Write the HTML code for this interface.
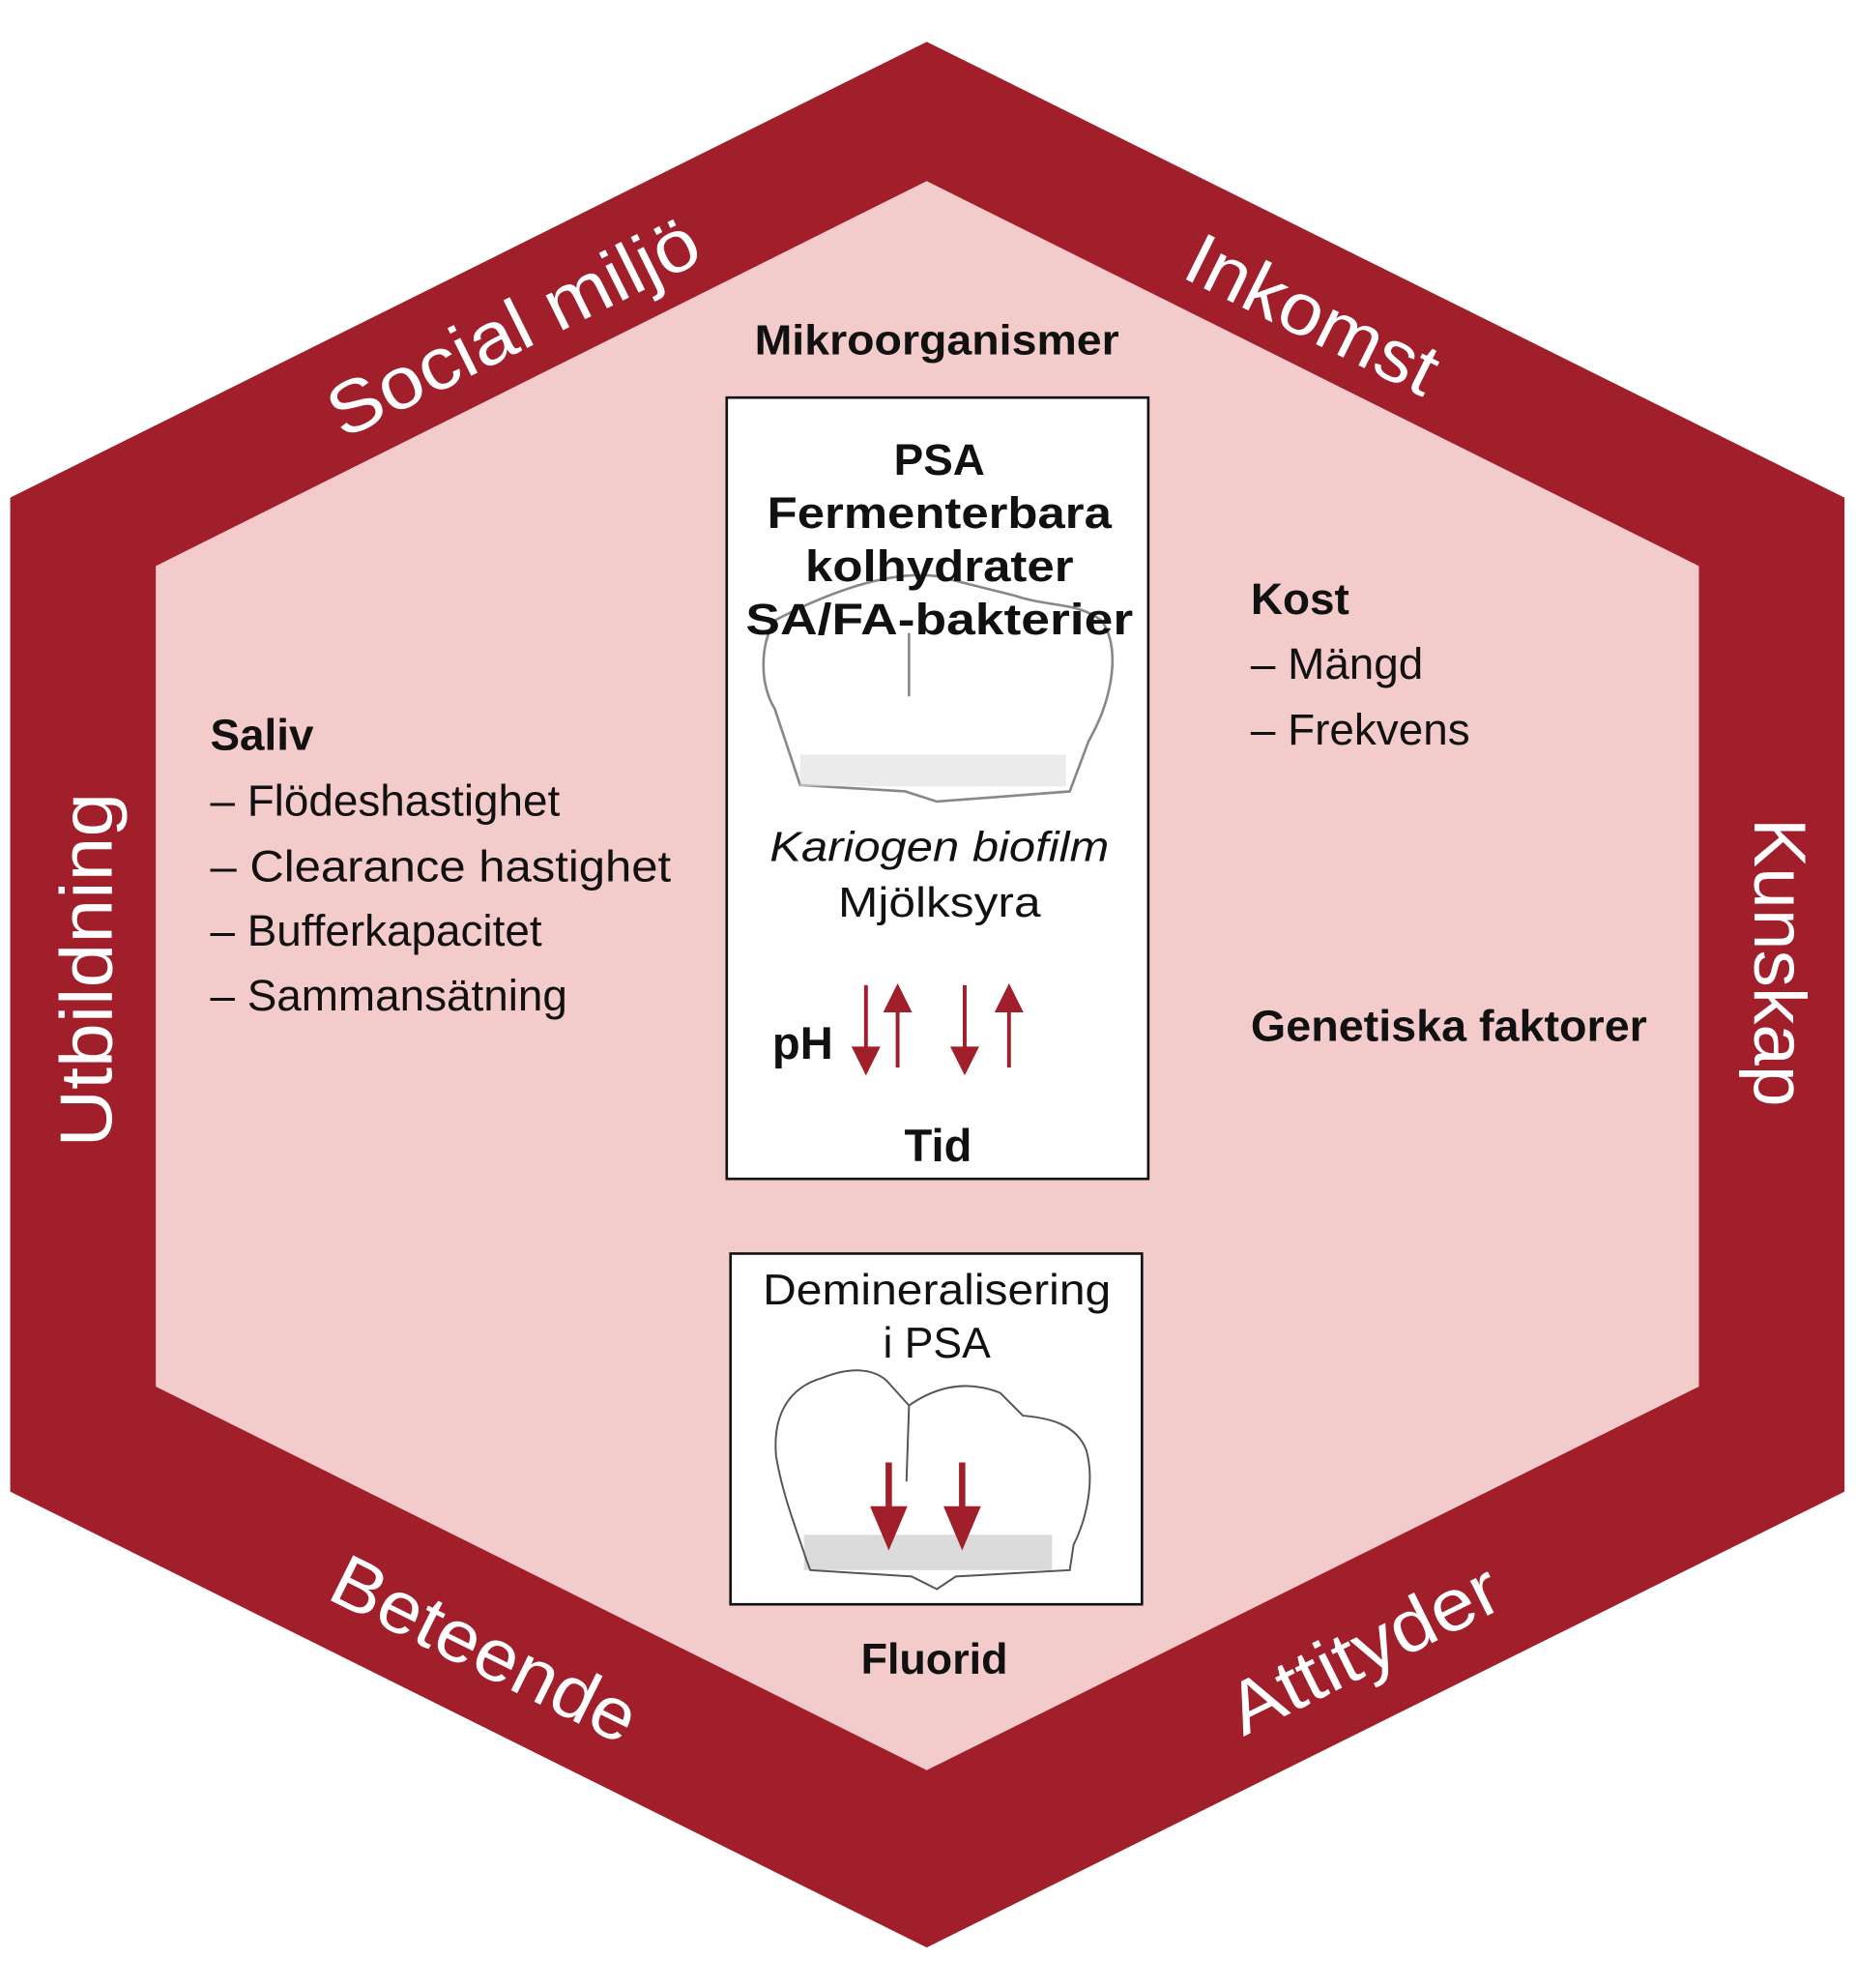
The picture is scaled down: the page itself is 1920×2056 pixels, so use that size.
<!DOCTYPE html>
<html><head><meta charset="utf-8"><style>
html,body{margin:0;padding:0;background:#fff}
svg{display:block}
text{font-family:"Liberation Sans",sans-serif}
</style></head><body>
<svg width="1920" height="2056" viewBox="0 0 1466 1570" xmlns="http://www.w3.org/2000/svg">
<polygon points="732,33 1457,393 1457,1178 732,1538 8,1178 8,393" fill="#a01f2b"/>
<polygon points="732,143 1342,447 1342,1095 732,1398 123,1095 123,447" fill="#f4cbcb"/>

<g fill="#fff" font-size="58" text-anchor="middle">
<text transform="translate(414,276) rotate(-26.4)" textLength="320" lengthAdjust="spacingAndGlyphs">Social miljö</text>
<text transform="translate(1028,266) rotate(26.4)" textLength="215" lengthAdjust="spacingAndGlyphs">Inkomst</text>
<text transform="translate(88,766) rotate(-90)" textLength="280" lengthAdjust="spacingAndGlyphs">Utbildning</text>
<text transform="translate(1386,760) rotate(90)" textLength="228" lengthAdjust="spacingAndGlyphs">Kunskap</text>
<text transform="translate(374,1320) rotate(26.4)" textLength="262" lengthAdjust="spacingAndGlyphs">Beteende</text>
<text transform="translate(1086,1320) rotate(-26.4)" textLength="232" lengthAdjust="spacingAndGlyphs">Attityder</text>
</g>

<text x="740" y="280" font-size="33" font-weight="bold" text-anchor="middle" fill="#111" textLength="288" lengthAdjust="spacingAndGlyphs">Mikroorganismer</text>

<rect x="574" y="314" width="333" height="617" fill="#fff" stroke="#111" stroke-width="2"/>
<g fill="none" stroke="#888" stroke-width="2">
<path d="M612,490 C600,510 600,540 612,560 L632,620 L715,625 L740,633 L845,625 L860,585 C880,550 885,510 870,490 C850,475 830,480 800,470 L740,455 C700,450 650,470 612,490 Z"/>
<path d="M718,500 L718,550"/>
</g>
<rect x="632" y="596" width="210" height="25" fill="#ddd" opacity="0.6"/>
<g fill="#111" text-anchor="middle" font-weight="bold" font-size="35">
<text x="742" y="375">PSA</text>
<text x="742" y="417" textLength="272" lengthAdjust="spacingAndGlyphs">Fermenterbara</text>
<text x="742" y="459" textLength="212" lengthAdjust="spacingAndGlyphs">kolhydrater</text>
<text x="742" y="501" textLength="306" lengthAdjust="spacingAndGlyphs">SA/FA-bakterier</text>
</g>
<text x="742" y="680" font-size="33" font-style="italic" text-anchor="middle" fill="#111" textLength="268" lengthAdjust="spacingAndGlyphs">Kariogen biofilm</text>
<text x="742" y="724" font-size="33" text-anchor="middle" fill="#111" textLength="160" lengthAdjust="spacingAndGlyphs">Mjölksyra</text>
<text x="610" y="836" font-size="36" font-weight="bold" fill="#111">pH</text>
<g stroke="#a01f2b" stroke-width="3" fill="#a01f2b">
<line x1="684" y1="778" x2="684" y2="830"/><polygon points="675,828 693,828 684,846"/>
<line x1="709" y1="796" x2="709" y2="843"/><polygon points="700,798 718,798 709,780"/>
<line x1="762" y1="778" x2="762" y2="830"/><polygon points="753,828 771,828 762,846"/>
<line x1="797" y1="796" x2="797" y2="843"/><polygon points="788,798 806,798 797,780"/>
</g>
<text x="741" y="917" font-size="36" font-weight="bold" text-anchor="middle" fill="#111">Tid</text>

<rect x="577" y="990" width="325" height="277" fill="#fff" stroke="#111" stroke-width="2"/>
<rect x="635" y="1212" width="196" height="28" fill="#ccc" opacity="0.7"/>
<g fill="none" stroke="#555" stroke-width="1.5">
<path d="M637,1232 C628,1205 618,1180 613,1150 C610,1115 625,1095 650,1088 C670,1080 688,1080 700,1090 L718,1110 C735,1098 760,1088 790,1100 L808,1118 C830,1120 850,1125 858,1145 C865,1170 858,1200 848,1220 L845,1240 L755,1245 L740,1255 L720,1245 L640,1240 Z"/>
<path d="M718,1110 L716,1170"/>
</g>
<g stroke="#a01f2b" stroke-width="5" fill="#a01f2b">
<line x1="702" y1="1155" x2="702" y2="1195"/><polygon points="691,1192 713,1192 702,1218"/>
<line x1="760" y1="1155" x2="760" y2="1195"/><polygon points="749,1192 771,1192 760,1218"/>
</g>
<text x="740" y="1030" font-size="34" text-anchor="middle" fill="#111" textLength="275" lengthAdjust="spacingAndGlyphs">Demineralisering</text>
<text x="740" y="1072" font-size="34" text-anchor="middle" fill="#111">i PSA</text>
<text x="738" y="1322" font-size="34" font-weight="bold" text-anchor="middle" fill="#111" textLength="116" lengthAdjust="spacingAndGlyphs">Fluorid</text>

<g fill="#111" font-size="35">
<text x="166" y="592" font-weight="bold">Saliv</text>
<text x="166" y="644">– Flödeshastighet</text>
<text x="166" y="696" textLength="364" lengthAdjust="spacingAndGlyphs">– Clearance hastighet</text>
<text x="166" y="747">– Bufferkapacitet</text>
<text x="166" y="798">– Sammansätning</text>
<text x="988" y="485" font-weight="bold">Kost</text>
<text x="988" y="536">– Mängd</text>
<text x="988" y="588">– Frekvens</text>
<text x="988" y="822" font-weight="bold" textLength="313" lengthAdjust="spacingAndGlyphs">Genetiska faktorer</text>
</g>
</svg>
</body></html>
